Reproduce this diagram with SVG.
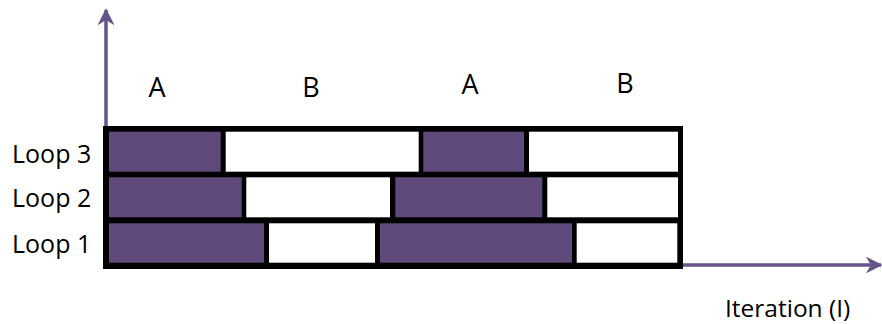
<svg xmlns="http://www.w3.org/2000/svg" width="882" height="324" viewBox="0 0 882 324">
<defs>
<style>
.t{font-family:"Open Sans","Liberation Sans",sans-serif;fill:#000}
.p{fill:#5f4a7b}
.w{fill:#fff}
.ax{stroke:#65548c;stroke-width:3.5;fill:none}
</style>
<marker id="ah" viewBox="0 0 10 10" refX="9" refY="5" markerWidth="4.8" markerHeight="4.8" markerUnits="strokeWidth" orient="auto">
<path d="M0,0 L10,5 L0,10 L3,5 Z" fill="#65548c"/>
</marker>
</defs>
<rect width="882" height="324" fill="#fff"/>
<g id="connectors">
<line class="ax" x1="106" y1="128" x2="106" y2="10" marker-end="url(#ah)"/>
<line class="ax" x1="682" y1="265" x2="881" y2="265" marker-end="url(#ah)"/>
</g>
<g id="frame">
<rect x="103" y="126" width="580" height="143" fill="#000"/>
</g>
<g id="loop3">
<rect class="p" x="109" y="131.7" width="111.7" height="40"/>
<rect class="w" x="225.7" y="131.7" width="193" height="40"/>
<rect class="p" x="423.3" y="131.7" width="100.7" height="40"/>
<rect class="w" x="529" y="131.7" width="149" height="40"/>
</g>
<g id="loop2">
<rect class="p" x="109" y="177.3" width="132.7" height="40"/>
<rect class="w" x="246.3" y="177.3" width="143.7" height="40"/>
<rect class="p" x="395.3" y="177.3" width="147" height="40"/>
<rect class="w" x="547.3" y="177.3" width="130.7" height="40"/>
</g>
<g id="loop1">
<rect class="p" x="109" y="223.3" width="155" height="39.4"/>
<rect class="w" x="269" y="223.3" width="106" height="39.4"/>
<rect class="p" x="380" y="223.3" width="192" height="39.4"/>
<rect class="w" x="576.7" y="223.3" width="100.6" height="39.4"/>
</g>
<g id="labels">
<text class="t" x="157" y="97" font-size="27" text-anchor="middle">A</text>
<text class="t" x="311" y="97" font-size="27" text-anchor="middle">B</text>
<text class="t" x="470" y="94" font-size="27" text-anchor="middle">A</text>
<text class="t" x="625" y="93" font-size="27" text-anchor="middle">B</text>
<text class="t" x="12" y="163" font-size="25">Loop 3</text>
<text class="t" x="12" y="207" font-size="25">Loop 2</text>
<text class="t" x="12" y="253" font-size="25">Loop 1</text>
<text class="t" x="725" y="317" font-size="24.5">Iteration (I)</text>
</g>
</svg>
